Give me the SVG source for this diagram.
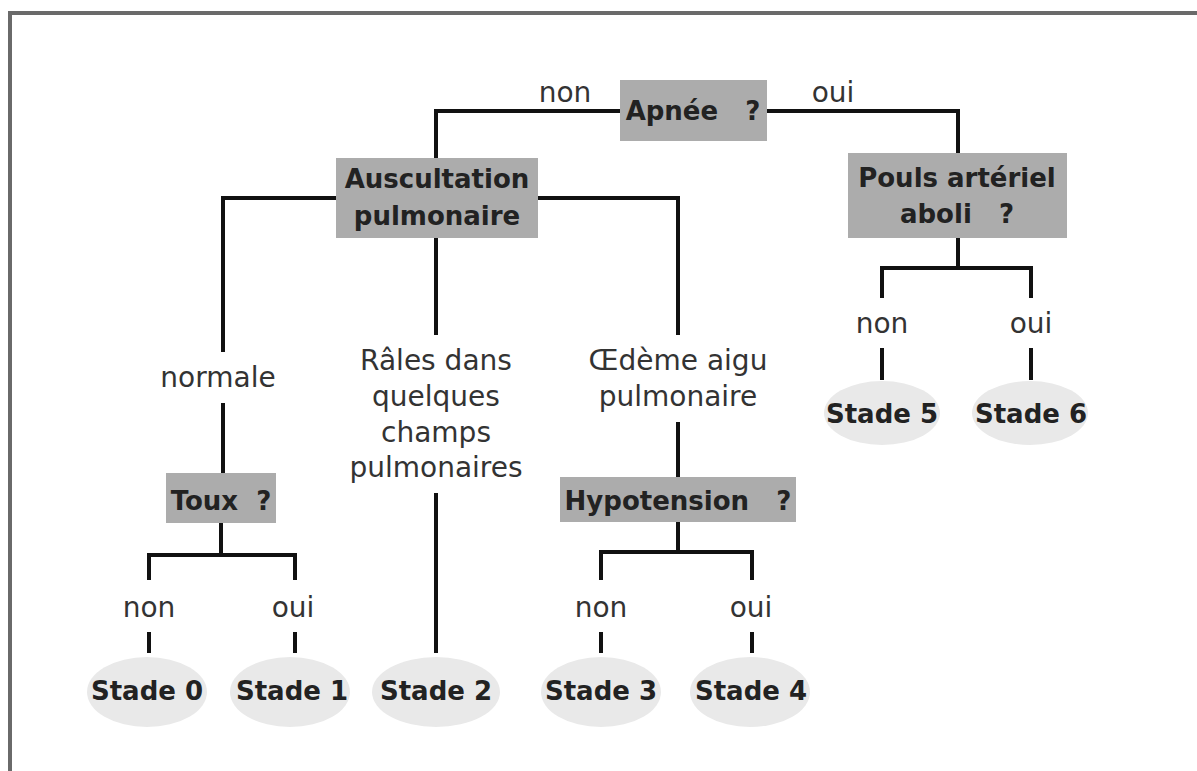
<svg xmlns="http://www.w3.org/2000/svg" width="1197" height="771" viewBox="0 0 1197 771">
<style>
.box{fill:#acacac}
.leaf{fill:#e9e9e9}
.b{font-family:"DejaVu Sans",sans-serif;font-weight:bold;font-size:26px;fill:#222;text-anchor:middle}
.l{font-family:"DejaVu Sans",sans-serif;font-size:28px;fill:#333;text-anchor:middle}
.c{fill:none;stroke:#111;stroke-width:4}
</style>
<rect x="0" y="0" width="1197" height="771" fill="#fff"/>
<path d="M10,771 V13 H1197" fill="none" stroke="#6a6a6a" stroke-width="4"/>
<g id="connectors" class="c">
<path d="M620,111 H436 V158"/>
<path d="M767,111 H958 V153"/>
<path d="M958,238 V268"/>
<path d="M882,298 V268 H1031 V298"/>
<path d="M882,348 V380 M1031,348 V380"/>
<path d="M336,198 H223 V352"/>
<path d="M223,403 V473"/>
<path d="M221,523 V555"/>
<path d="M149,580 V555 H295 V580"/>
<path d="M149,632 V653 M295,632 V653"/>
<path d="M436,238 V335"/>
<path d="M436,493 V653"/>
<path d="M538,198 H678 V335"/>
<path d="M678,422 V477"/>
<path d="M678,522 V552"/>
<path d="M601,580 V552 H752 V580"/>
<path d="M601,632 V653 M752,632 V653"/>
</g>
<g id="labels">
<text class="l" x="565" y="102">non</text>
<text class="l" x="833" y="102">oui</text>
<text class="l" x="882" y="333">non</text>
<text class="l" x="1031" y="333">oui</text>
<text class="l" x="218" y="387">normale</text>
<text class="l" x="436" y="370">Râles dans</text>
<text class="l" x="436" y="406">quelques</text>
<text class="l" x="436" y="442">champs</text>
<text class="l" x="436" y="477">pulmonaires</text>
<text class="l" x="678" y="370">Œdème aigu</text>
<text class="l" x="678" y="406">pulmonaire</text>
<text class="l" x="149" y="617">non</text>
<text class="l" x="293" y="617">oui</text>
<text class="l" x="601" y="617">non</text>
<text class="l" x="751" y="617">oui</text>
</g>
<g id="apnee"><rect class="box" x="620" y="80" width="147" height="61"/><text class="b" x="693" y="120" xml:space="preserve">Apnée   ?</text></g>
<g id="auscultation"><rect class="box" x="336" y="158" width="202" height="80"/><text class="b" x="437" y="188">Auscultation</text><text class="b" x="437" y="225">pulmonaire</text></g>
<g id="pouls"><rect class="box" x="848" y="153" width="219" height="85"/><text class="b" x="957" y="187">Pouls artériel</text><text class="b" x="957" y="223" xml:space="preserve">aboli   ?</text></g>
<g id="toux"><rect class="box" x="166" y="473" width="110" height="50"/><text class="b" x="221" y="510" xml:space="preserve">Toux  ?</text></g>
<g id="hypotension"><rect class="box" x="560" y="477" width="236" height="45"/><text class="b" x="678" y="510" xml:space="preserve">Hypotension   ?</text></g>
<g id="stade0"><ellipse class="leaf" cx="147" cy="692" rx="60" ry="35"/><text class="b" x="147" y="700">Stade 0</text></g>
<g id="stade1"><ellipse class="leaf" cx="290" cy="692" rx="60" ry="35"/><text class="b" x="292" y="700">Stade 1</text></g>
<g id="stade2"><ellipse class="leaf" cx="436" cy="692" rx="64" ry="35"/><text class="b" x="436" y="700">Stade 2</text></g>
<g id="stade3"><ellipse class="leaf" cx="601" cy="692" rx="60" ry="35"/><text class="b" x="601" y="700">Stade 3</text></g>
<g id="stade4"><ellipse class="leaf" cx="750" cy="692" rx="60" ry="35"/><text class="b" x="751" y="700">Stade 4</text></g>
<g id="stade5"><ellipse class="leaf" cx="882" cy="413" rx="58" ry="32"/><text class="b" x="882" y="423">Stade 5</text></g>
<g id="stade6"><ellipse class="leaf" cx="1030" cy="413" rx="58" ry="32"/><text class="b" x="1031" y="423">Stade 6</text></g>
</svg>
